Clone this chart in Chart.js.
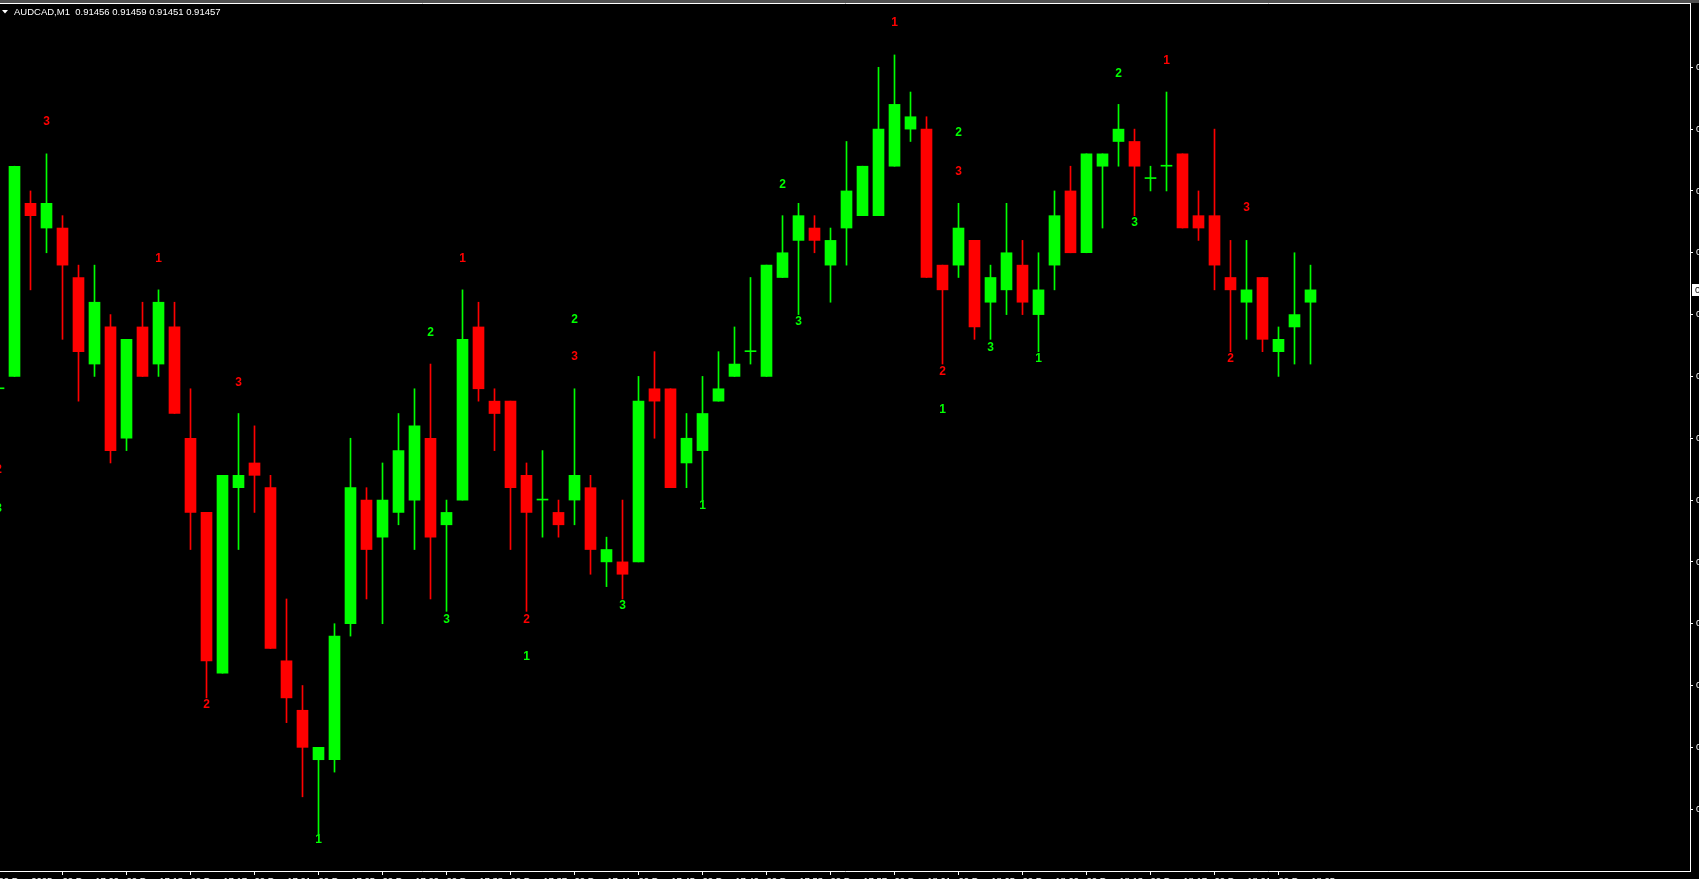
<!DOCTYPE html>
<html>
<head>
<meta charset="utf-8">
<title>AUDCAD,M1</title>
<script src="https://cdn.jsdelivr.net/npm/chart.js"></script>
<style>
  html, body { margin: 0; padding: 0; background: #000; overflow: hidden; }
  .chart-wrap { width: 1699px; height: 879px; overflow: hidden; position: relative; }
  canvas { display: block; }
</style>
</head>
<body>
<div class="chart-wrap">
  <canvas id="audcadM1" width="1750" height="901"></canvas>
</div>
<script>
// one entry per minute bar, first one (index -1) is the bar cut off at the left edge
const opens = [
  0.91449, 0.91450, 0.91464, 0.91462, 0.91462, 0.91458, 0.91451, 0.91454, 0.91445, 0.91454,
  0.91451, 0.91454, 0.91445, 0.91439, 0.91426, 0.91441, 0.91443, 0.91441, 0.91427, 0.91423,
  0.91419, 0.91419, 0.91430, 0.91440, 0.91437, 0.91439, 0.91440, 0.91445, 0.91438, 0.91440,
  0.91454, 0.91448, 0.91448, 0.91442, 0.91440, 0.91439, 0.91440, 0.91441, 0.91435, 0.91435,
  0.91435, 0.91449, 0.91449, 0.91443, 0.91444, 0.91448, 0.91450, 0.91452, 0.91450, 0.91458,
  0.91461, 0.91462, 0.91459, 0.91462, 0.91463, 0.91463, 0.91467, 0.91470, 0.91470, 0.91459,
  0.91459, 0.91461, 0.91456, 0.91457, 0.91459, 0.91455, 0.91459, 0.91465, 0.91460, 0.91467,
  0.91469, 0.91469, 0.91466, 0.91467, 0.91468, 0.91463, 0.91463, 0.91458, 0.91456, 0.91458,
  0.91452, 0.91454, 0.91456,
];
const highs = [
  0.91450, 0.91467, 0.91465, 0.91468, 0.91463, 0.91459, 0.91459, 0.91455, 0.91453, 0.91456,
  0.91457, 0.91456, 0.91449, 0.91439, 0.91442, 0.91447, 0.91446, 0.91442, 0.91432, 0.91425,
  0.91420, 0.91430, 0.91445, 0.91441, 0.91443, 0.91447, 0.91449, 0.91451, 0.91440, 0.91457,
  0.91456, 0.91449, 0.91448, 0.91443, 0.91444, 0.91440, 0.91449, 0.91442, 0.91437, 0.91440,
  0.91450, 0.91452, 0.91449, 0.91447, 0.91450, 0.91452, 0.91454, 0.91458, 0.91459, 0.91463,
  0.91464, 0.91463, 0.91462, 0.91469, 0.91467, 0.91475, 0.91476, 0.91473, 0.91471, 0.91459,
  0.91464, 0.91461, 0.91459, 0.91464, 0.91461, 0.91460, 0.91465, 0.91467, 0.91468, 0.91468,
  0.91472, 0.91470, 0.91467, 0.91473, 0.91468, 0.91465, 0.91470, 0.91461, 0.91461, 0.91458,
  0.91454, 0.91460, 0.91459,
];
const lows = [
  0.91448, 0.91450, 0.91457, 0.91460, 0.91453, 0.91448, 0.91450, 0.91443, 0.91444, 0.91450,
  0.91450, 0.91447, 0.91436, 0.91424, 0.91426, 0.91436, 0.91439, 0.91428, 0.91422, 0.91416,
  0.91413, 0.91418, 0.91429, 0.91432, 0.91430, 0.91438, 0.91436, 0.91432, 0.91431, 0.91440,
  0.91448, 0.91444, 0.91436, 0.91431, 0.91437, 0.91437, 0.91438, 0.91434, 0.91433, 0.91432,
  0.91435, 0.91445, 0.91441, 0.91441, 0.91440, 0.91448, 0.91450, 0.91451, 0.91450, 0.91458,
  0.91455, 0.91460, 0.91456, 0.91459, 0.91463, 0.91463, 0.91467, 0.91469, 0.91458, 0.91451,
  0.91458, 0.91453, 0.91453, 0.91455, 0.91455, 0.91452, 0.91457, 0.91460, 0.91460, 0.91462,
  0.91467, 0.91463, 0.91465, 0.91465, 0.91462, 0.91461, 0.91457, 0.91452, 0.91453, 0.91452,
  0.91450, 0.91451, 0.91451,
];
const closes = [
  0.91449, 0.91467, 0.91463, 0.91464, 0.91459, 0.91452, 0.91456, 0.91444, 0.91453, 0.91450,
  0.91456, 0.91447, 0.91439, 0.91427, 0.91442, 0.91442, 0.91442, 0.91428, 0.91424, 0.91420,
  0.91420, 0.91429, 0.91441, 0.91436, 0.91440, 0.91444, 0.91446, 0.91437, 0.91439, 0.91453,
  0.91449, 0.91447, 0.91441, 0.91439, 0.91440, 0.91438, 0.91442, 0.91436, 0.91436, 0.91434,
  0.91448, 0.91448, 0.91441, 0.91445, 0.91447, 0.91449, 0.91451, 0.91452, 0.91459, 0.91460,
  0.91463, 0.91461, 0.91461, 0.91465, 0.91467, 0.91470, 0.91472, 0.91471, 0.91458, 0.91457,
  0.91462, 0.91454, 0.91458, 0.91460, 0.91456, 0.91457, 0.91463, 0.91460, 0.91468, 0.91468,
  0.91470, 0.91467, 0.91466, 0.91467, 0.91462, 0.91462, 0.91459, 0.91457, 0.91457, 0.91453,
  0.91453, 0.91455, 0.91457,
];

// time axis (bar index -> label)
const timeTicks = [-1, 3, 7, 11, 15, 19, 23, 27, 31, 35, 39, 43, 47, 51, 55, 59, 63, 67, 71, 75, 79];
const timeLabels = [
  "22 Dec 2025", "22 Dec 17:09", "22 Dec 17:13", "22 Dec 17:17", "22 Dec 17:21", "22 Dec 17:25",
  "22 Dec 17:29", "22 Dec 17:33", "22 Dec 17:37", "22 Dec 17:41", "22 Dec 17:45", "22 Dec 17:49",
  "22 Dec 17:53", "22 Dec 17:57", "22 Dec 18:01", "22 Dec 18:05", "22 Dec 18:09", "22 Dec 18:13",
  "22 Dec 18:17", "22 Dec 18:21", "22 Dec 18:25",
];
const priceTicks = [
  0.91415, 0.9142, 0.91425, 0.9143, 0.91435, 0.9144, 0.91445,
  0.9145, 0.91455, 0.9146, 0.91465, 0.9147, 0.91475,
];

// indicator digits printed around the bars
const markIdx = [-1, -1, 2, 9, 12, 14, 19, 26, 27, 28, 32, 32, 35, 35, 38, 43, 48, 49, 55, 58, 58, 59, 59, 61, 64, 69, 70, 72, 76, 77];
const markPrice = [
  0.914425, 0.914394, 0.914707, 0.914596, 0.914235, 0.914496, 0.914126, 0.914536, 0.914304, 0.914596,
  0.914304, 0.914274, 0.914547, 0.914517, 0.914315, 0.914396, 0.914656, 0.914545, 0.914787, 0.914505,
  0.914474, 0.914698, 0.914666, 0.914524, 0.914515, 0.914746, 0.914625, 0.914756, 0.914515, 0.914637,
];
const markText = ["2", "3", "3", "1", "2", "3", "1", "2", "3", "1", "2", "1", "2", "3", "3", "1", "2", "3", "1", "2", "1", "2", "3", "3", "1", "2", "3", "1", "2", "3"];
const markDir = [
  "dn", "up", "dn", "dn", "dn", "dn", "up", "up", "up", "dn",
  "dn", "up", "up", "dn", "up", "up", "up", "up", "dn", "dn",
  "up", "up", "dn", "up", "up", "up", "up", "dn", "dn", "dn",
];

const BULL = "#00ff00";
const BEAR = "#ff0000";
const AXIS_FONT = { family: "'Liberation Sans', Arial, sans-serif", size: 9.5 };

const barColors = closes.map((c, i) => (c >= opens[i] ? BULL : BEAR));
const bodies = opens.map((o, i) => ({ x: i - 1, y: [o, closes[i]] }));
const wicks = lows.map((l, i) => ({ x: i - 1, y: [l, highs[i]] }));

// MT4 style bits: top strip, frame line, title, last price box, digits
const terminalLook = {
  id: "terminalLook",
  beforeDraw(chart) {
    const c = chart.ctx;
    c.save();
    c.fillStyle = "#000";
    c.fillRect(0, 0, chart.width, chart.height);
    c.fillStyle = "#505050";
    c.fillRect(0, 0, chart.width, 3);
    c.restore();
  },
  afterDatasetsDraw(chart) {
    const { ctx: c, scales: { x, y } } = chart;
    c.save();
    c.font = "bold 12px 'Liberation Sans', Arial, sans-serif";
    c.textAlign = "center";
    c.textBaseline = "alphabetic";
    markIdx.forEach((k, i) => {
      c.fillStyle = markDir[i] === "up" ? BULL : BEAR;
      c.fillText(markText[i], x.getPixelForValue(k), y.getPixelForValue(markPrice[i]) + 4.3);
    });
    c.restore();
  },
  afterDraw(chart) {
    const { ctx: c, chartArea: area, scales: { y } } = chart;
    c.save();
    c.strokeStyle = "#fff";
    c.lineWidth = 1;
    c.beginPath();
    c.moveTo(0, area.top + 0.5);
    c.lineTo(area.right + 1, area.top + 0.5);
    c.stroke();

    // title
    c.fillStyle = "#fff";
    c.beginPath();
    c.moveTo(2, 10);
    c.lineTo(8, 10);
    c.lineTo(5, 13.5);
    c.closePath();
    c.fill();
    c.font = "9.5px 'Liberation Sans', Arial, sans-serif";
    c.textBaseline = "alphabetic";
    c.textAlign = "left";
    const last = closes.length - 1;
    c.fillText(
      "AUDCAD,M1  " + [opens[last], highs[last], lows[last], closes[last]].map((v) => v.toFixed(5)).join(" "),
      14, 15
    );

    // bid box on the price scale
    const py = Math.round(y.getPixelForValue(closes[last]));
    c.fillStyle = "#fff";
    c.fillRect(area.right + 2, py - 6, 60, 12);
    c.fillStyle = "#000";
    c.textBaseline = "middle";
    c.fillText(closes[last].toFixed(5), area.right + 5, py);
    c.restore();
  },
};

const ctx = document.getElementById("audcadM1").getContext("2d");
const audcadChart = new Chart(ctx, {
  type: "bar",
  data: {
    datasets: [
      {
        label: "wick",
        data: wicks,
        backgroundColor: barColors,
        barThickness: 1,
        grouped: false,
        borderWidth: 0,
        order: 2,
      },
      {
        label: "body",
        data: bodies,
        backgroundColor: barColors,
        barThickness: 11,
        minBarLength: 1, // doji still shows a dash
        grouped: false,
        borderWidth: 0,
        order: 1,
      },
    ],
  },
  options: {
    responsive: false,
    animation: false,
    events: [],
    layout: { autoPadding: false, padding: { top: 3, left: 0, right: 0, bottom: 0 } },
    plugins: {
      legend: { display: false },
      tooltip: { enabled: false },
    },
    scales: {
      x: {
        type: "linear",
        min: -0.90625,
        max: 104.71875,
        offset: false,
        grid: { drawOnChartArea: false, drawTicks: true, tickLength: 4, color: "#fff", offset: false },
        border: { display: true, color: "#fff", width: 1 },
        ticks: {
          align: "start",
          padding: 1,
          color: "#fff",
          font: AXIS_FONT,
          maxRotation: 0,
          autoSkip: false,
          callback: (value) => timeLabels[timeTicks.indexOf(value)] ?? "",
        },
        afterBuildTicks: (scale) => {
          scale.ticks = timeTicks.map((v) => ({ value: v }));
        },
        afterFit: (scale) => {
          scale.height = 30;
          scale.paddingLeft = 0;
          scale.paddingRight = 0;
        },
      },
      y: {
        position: "right",
        beginAtZero: false,
        min: 0.9141,
        max: 0.914802,
        grid: { drawOnChartArea: false, drawTicks: true, tickLength: 3, color: "#fff" },
        border: { display: true, color: "#fff", width: 1 },
        ticks: {
          padding: 3,
          color: "#fff",
          font: AXIS_FONT,
          callback: (value) => Number(value).toFixed(5),
        },
        afterBuildTicks: (scale) => {
          scale.ticks = priceTicks.map((v) => ({ value: v }));
        },
        afterFit: (scale) => {
          scale.width = 60;
          scale.paddingTop = 0;
          scale.paddingBottom = 0;
        },
      },
    },
  },
  plugins: [terminalLook],
});
</script>
</body>
</html>
